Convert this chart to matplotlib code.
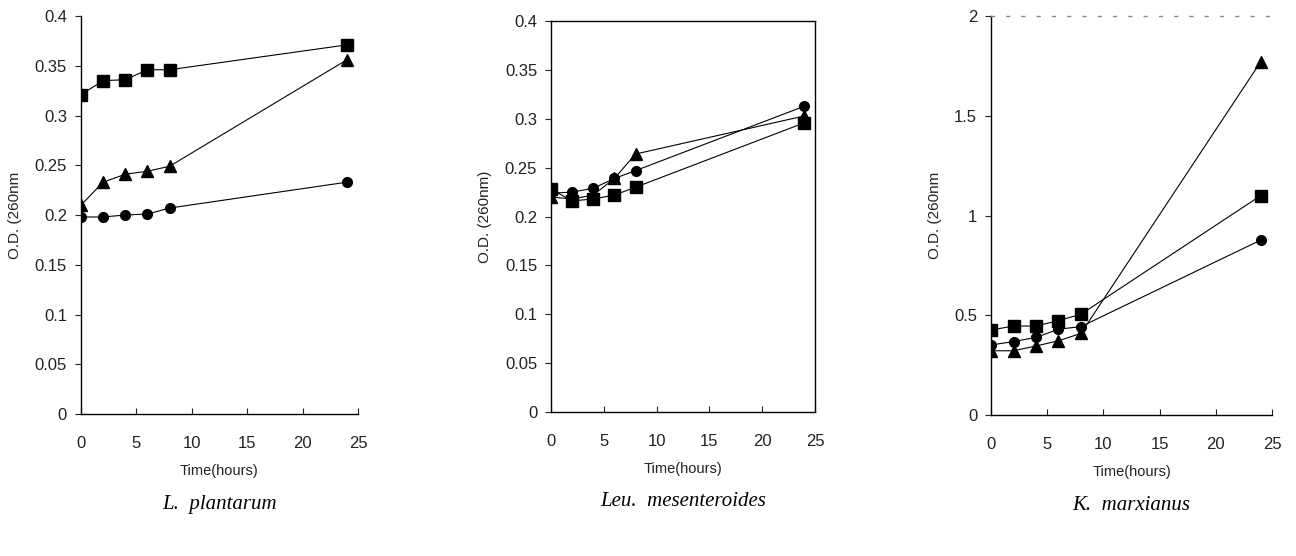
import matplotlib.pyplot as plt

# sampling times (hours)
hours = [0, 2, 4, 6, 8, 24]

# L. plantarum
lp_square = [0.321, 0.335, 0.336, 0.346, 0.346, 0.371]
lp_triangle = [0.210, 0.233, 0.241, 0.244, 0.249, 0.356]
lp_circle = [0.198, 0.198, 0.200, 0.201, 0.207, 0.233]

# Leu. mesenteroides
lm_square = [0.228, 0.216, 0.218, 0.222, 0.230, 0.296]
lm_triangle = [0.220, 0.218, 0.222, 0.239, 0.264, 0.303]
lm_circle = [0.224, 0.225, 0.229, 0.239, 0.247, 0.313]

# K. marxianus
km_square = [0.426, 0.446, 0.446, 0.473, 0.505, 1.10]
km_triangle = [0.322, 0.322, 0.346, 0.372, 0.409, 1.771]
km_circle = [0.351, 0.368, 0.389, 0.430, 0.443, 0.877]

species = ["L.  plantarum", "Leu.  mesenteroides", "K.  marxianus"]
ylabels = ["O.D. (260nm", "O.D. (260nm)", "O.D. (260nm"]
yticks = [[0, 0.05, 0.1, 0.15, 0.2, 0.25, 0.3, 0.35, 0.4],
          [0, 0.05, 0.1, 0.15, 0.2, 0.25, 0.3, 0.35, 0.4],
          [0, 0.5, 1, 1.5, 2]]
yticklabels = [["0", "0.05", "0.1", "0.15", "0.2", "0.25", "0.3", "0.35", "0.4"],
               ["0", "0.05", "0.1", "0.15", "0.2", "0.25", "0.3", "0.35", "0.4"],
               ["0", "0.5", "1", "1.5", "2"]]
xticks = [0, 5, 10, 15, 20, 25]

series = [(lp_square, lp_triangle, lp_circle),
          (lm_square, lm_triangle, lm_circle),
          (km_square, km_triangle, km_circle)]

plt.rcParams["font.family"] = ["Liberation Sans", "DejaVu Sans"]

fig = plt.figure(figsize=(12.96, 5.56), dpi=100)
boxes = [[0.0625, 0.2554, 0.2137, 0.7158],
         [0.4252, 0.2590, 0.2037, 0.7030],
         [0.7647, 0.2536, 0.2168, 0.7176]]

txt = "#222222"
for i, (sq, tri, cir) in enumerate(series):
    ax = fig.add_axes(boxes[i])
    ax.plot(hours, sq, "-s", color="black", lw=0.8, ms=8)
    ax.plot(hours, tri, "-^", color="black", lw=0.8, ms=8)
    ax.plot(hours, cir, "-o", color="black", lw=0.8, ms=7)

    ax.set_xlim(0, 25)
    ax.set_ylim(yticks[i][0], yticks[i][-1])
    ax.set_xticks(xticks)
    ax.set_yticks(yticks[i])
    ax.set_yticklabels(yticklabels[i])
    ax.tick_params(axis="x", direction="in", length=4, pad=16, labelsize=12,
                   colors=txt, width=0.8)
    ax.tick_params(axis="y", direction="out", length=4, pad=6, labelsize=12,
                   colors=txt, width=0.8)

    for s in ax.spines.values():
        s.set_linewidth(1.0)
        s.set_color("black")
    if i == 0:
        ax.spines["top"].set_visible(False)
        ax.spines["right"].set_visible(False)
    elif i == 2:
        ax.spines["right"].set_visible(False)
        ax.spines["top"].set_color("#888888")
        ax.spines["top"].set_linestyle((0, (2, 9)))

    ax.set_ylabel(ylabels[i], fontsize=11, color=txt, labelpad=9)
    ax.set_xlabel("Time(hours)", fontsize=10.5, color=txt, labelpad=9)
    ax.text(0.5, -0.228, species[i], transform=ax.transAxes, ha="center",
            va="center", fontsize=15, style="italic",
            family=["Liberation Serif", "DejaVu Serif"])

fig.savefig("out.png", dpi=100)
